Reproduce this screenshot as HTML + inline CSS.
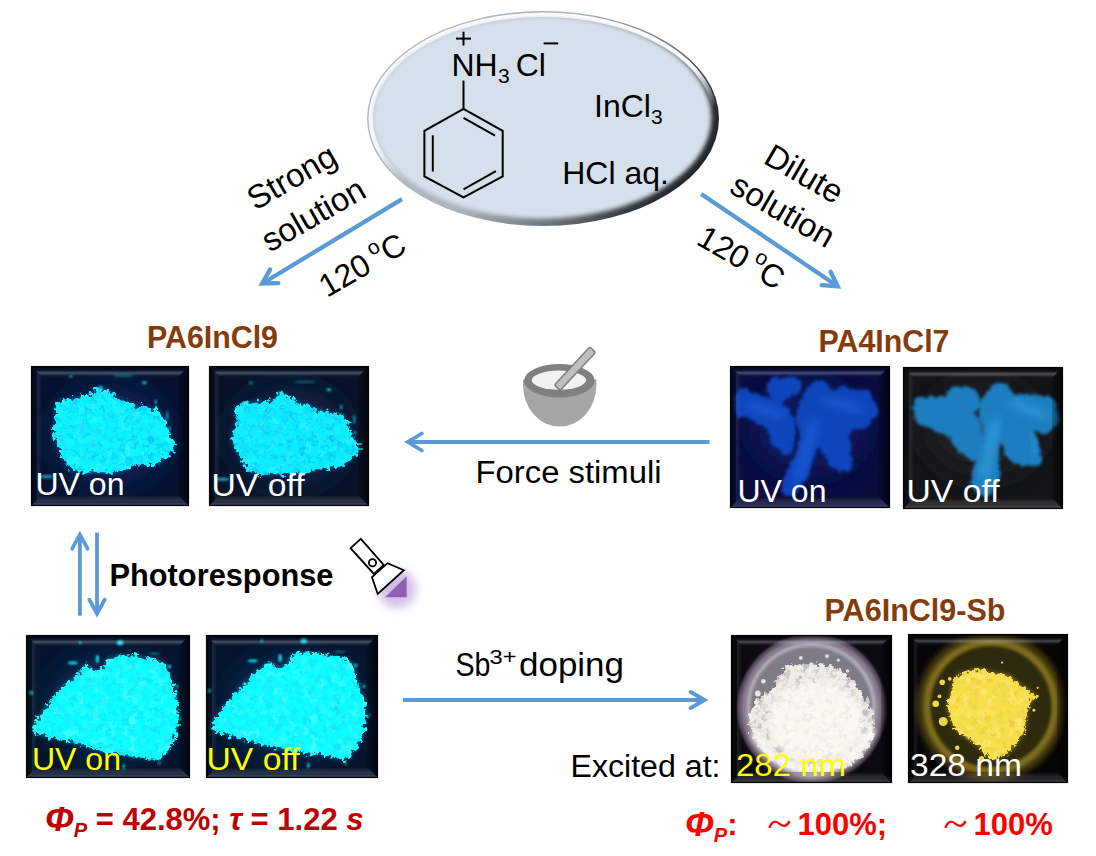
<!DOCTYPE html>
<html><head><meta charset="utf-8"><style>
html,body{margin:0;padding:0;background:#fff;width:1096px;height:856px;overflow:hidden}
svg{display:block}
</style></head><body>
<svg width="1096" height="856" viewBox="0 0 1096 856">
<rect width="1096" height="856" fill="#fff"/>

<defs>
 <linearGradient id="bvT" x1="0" y1="0" x2="0" y2="1">
  <stop offset="0" stop-color="#000" stop-opacity="0.6"/>
  <stop offset="0.35" stop-color="#000" stop-opacity="0.2"/>
  <stop offset="0.62" stop-color="#c8d0e0" stop-opacity="0.32"/>
  <stop offset="0.85" stop-color="#fff" stop-opacity="0.06"/>
  <stop offset="1" stop-color="#fff" stop-opacity="0"/>
 </linearGradient>
 <linearGradient id="bvL" x1="0" y1="0" x2="1" y2="0">
  <stop offset="0" stop-color="#000" stop-opacity="0.6"/>
  <stop offset="0.5" stop-color="#000" stop-opacity="0.2"/>
  <stop offset="0.65" stop-color="#fff" stop-opacity="0.07"/>
  <stop offset="1" stop-color="#fff" stop-opacity="0"/>
 </linearGradient>
 <linearGradient id="bvR" x1="1" y1="0" x2="0" y2="0">
  <stop offset="0" stop-color="#000" stop-opacity="0.7"/>
  <stop offset="1" stop-color="#000" stop-opacity="0.2"/>
 </linearGradient>
 <linearGradient id="bvB" x1="0" y1="1" x2="0" y2="0">
  <stop offset="0" stop-color="#000" stop-opacity="0.6"/>
  <stop offset="0.3" stop-color="#fff" stop-opacity="0.12"/>
  <stop offset="1" stop-color="#000" stop-opacity="0.3"/>
 </linearGradient>
 <radialGradient id="ellFill" cx="0.5" cy="0.5" r="0.5">
  <stop offset="0.86" stop-color="#d6e0ea"/>
  <stop offset="1" stop-color="#c3ccd6"/>
 </radialGradient>
 <linearGradient id="ellEdge" x1="0" y1="0.3" x2="1" y2="0.7">
  <stop offset="0" stop-color="#b4bcc6"/>
  <stop offset="0.45" stop-color="#aab2bc"/>
  <stop offset="0.67" stop-color="#72787f"/>
  <stop offset="0.9" stop-color="#2a2e33"/>
  <stop offset="1" stop-color="#1e2226"/>
 </linearGradient>
 <linearGradient id="ellHi" x1="0.3" y1="0" x2="0.7" y2="1">
  <stop offset="0" stop-color="#ffffff"/>
  <stop offset="0.45" stop-color="#ffffff"/>
  <stop offset="0.62" stop-color="#ffffff" stop-opacity="0"/>
  <stop offset="1" stop-color="#ffffff" stop-opacity="0"/>
 </linearGradient>
 <radialGradient id="halo7" cx="0.5" cy="0.5" r="0.5">
  <stop offset="0" stop-color="#a098a8"/>
  <stop offset="0.82" stop-color="#a098a8"/>
  <stop offset="0.9" stop-color="#7e7284"/>
  <stop offset="0.96" stop-color="#463c4c"/>
  <stop offset="1" stop-color="#0c0b12" stop-opacity="0"/>
 </radialGradient>
 <filter id="bl05" x="-5%" y="-5%" width="110%" height="110%"><feGaussianBlur stdDeviation="2.2"/></filter>
 <filter id="bl04" x="-5%" y="-5%" width="110%" height="110%"><feGaussianBlur stdDeviation="0.7"/></filter>
 <filter id="bl1" x="-20%" y="-20%" width="140%" height="140%"><feGaussianBlur stdDeviation="6"/></filter>
 <filter id="bl2" x="-20%" y="-20%" width="140%" height="140%"><feGaussianBlur stdDeviation="14"/></filter>
 <filter id="bl3" x="-50%" y="-50%" width="200%" height="200%"><feGaussianBlur stdDeviation="30"/></filter>
 <filter id="bl4" x="-50%" y="-50%" width="200%" height="200%"><feGaussianBlur stdDeviation="90"/></filter>
 <filter id="glowP" x="-50%" y="-50%" width="200%" height="200%"><feGaussianBlur stdDeviation="5"/></filter>
 <filter id="r1" x="-10%" y="-10%" width="120%" height="120%"><feTurbulence type="fractalNoise" baseFrequency="0.035" numOctaves="3" seed="2" result="t"/><feDisplacementMap in="SourceGraphic" in2="t" scale="70" xChannelSelector="R" yChannelSelector="G"/></filter>
 <filter id="r2" x="-10%" y="-10%" width="120%" height="120%"><feTurbulence type="fractalNoise" baseFrequency="0.035" numOctaves="3" seed="7" result="t"/><feDisplacementMap in="SourceGraphic" in2="t" scale="70" xChannelSelector="R" yChannelSelector="G"/></filter>
 <filter id="r3" x="-10%" y="-10%" width="120%" height="120%"><feTurbulence type="fractalNoise" baseFrequency="0.04" numOctaves="3" seed="4" result="t"/><feDisplacementMap in="SourceGraphic" in2="t" scale="60" xChannelSelector="R" yChannelSelector="G"/></filter>
 <filter id="r4" x="-10%" y="-10%" width="120%" height="120%"><feTurbulence type="fractalNoise" baseFrequency="0.04" numOctaves="3" seed="9" result="t"/><feDisplacementMap in="SourceGraphic" in2="t" scale="60" xChannelSelector="R" yChannelSelector="G"/></filter>
 <filter id="r5" x="-10%" y="-10%" width="120%" height="120%"><feTurbulence type="fractalNoise" baseFrequency="0.04" numOctaves="3" seed="11" result="t"/><feDisplacementMap in="SourceGraphic" in2="t" scale="60" xChannelSelector="R" yChannelSelector="G"/></filter>
 <filter id="r6" x="-10%" y="-10%" width="120%" height="120%"><feTurbulence type="fractalNoise" baseFrequency="0.045" numOctaves="3" seed="13" result="t"/><feDisplacementMap in="SourceGraphic" in2="t" scale="55" xChannelSelector="R" yChannelSelector="G"/></filter>
 <filter id="sb1" x="-10%" y="-10%" width="120%" height="120%"><feTurbulence type="fractalNoise" baseFrequency="0.03" numOctaves="2" seed="5" result="t"/><feDisplacementMap in="SourceGraphic" in2="t" scale="40" xChannelSelector="R" yChannelSelector="G" result="d"/><feGaussianBlur in="d" stdDeviation="11"/></filter>
 <filter id="texD" x="0" y="0" width="100%" height="100%">
  <feTurbulence type="fractalNoise" baseFrequency="0.03" numOctaves="1" seed="21" result="n"/>
  <feColorMatrix in="n" type="matrix" values="0 0 0 0 0  0 0 0 0 0  0 0 0 0 0  2.0 0 0 0 -0.95" result="m"/>
  <feComposite in="SourceGraphic" in2="m" operator="in"/>
 </filter>
 <filter id="texH" x="0" y="0" width="100%" height="100%">
  <feTurbulence type="fractalNoise" baseFrequency="0.025" numOctaves="1" seed="33" result="n"/>
  <feColorMatrix in="n" type="matrix" values="0 0 0 0 0  0 0 0 0 0  0 0 0 0 0  2.0 0 0 0 -1.0" result="m"/>
  <feComposite in="SourceGraphic" in2="m" operator="in"/>
 </filter>
 <filter id="tex" x="0" y="0" width="100%" height="100%">
  <feTurbulence type="fractalNoise" baseFrequency="0.08" numOctaves="2" seed="3" result="n"/>
  <feColorMatrix in="n" type="matrix" values="0 0 0 0 1  0 0 0 0 1  0 0 0 0 1  0 0 0 -1.6 1.1" result="m"/>
  <feComposite in="SourceGraphic" in2="m" operator="in"/>
 </filter>
 <clipPath id="c1"><rect x="31" y="366" width="158" height="140"/></clipPath>
 <clipPath id="c2"><rect x="209" y="366" width="160" height="140"/></clipPath>
 <clipPath id="c3"><rect x="730" y="366" width="160" height="142"/></clipPath>
 <clipPath id="c4"><rect x="903" y="367" width="160" height="142"/></clipPath>
 <clipPath id="c5"><rect x="26" y="635" width="164" height="143"/></clipPath>
 <clipPath id="c6"><rect x="206" y="635" width="172" height="143"/></clipPath>
 <clipPath id="c7"><rect x="731" y="635" width="161" height="148"/></clipPath>
 <clipPath id="c8"><rect x="908" y="634" width="160" height="149"/></clipPath>
</defs>
<g>
 <ellipse cx="543" cy="118.5" rx="176" ry="107.5" fill="url(#ellEdge)"/>
 <ellipse cx="543" cy="118.5" rx="172.2" ry="103.8" fill="none" stroke="url(#ellHi)" stroke-width="4.4" filter="url(#bl04)"/>
 <ellipse cx="541.8" cy="117.6" rx="169.6" ry="100.8" fill="#d6e0ea" filter="url(#bl05)"/>
</g><g font-family='"Liberation Sans", sans-serif' fill="#000">
 <text x="451.4" y="75.5" font-size="32">NH</text>
 <text x="498" y="82.8" font-size="21">3</text>
 <text x="515.7" y="75.5" font-size="32">Cl</text>
 <text x="594" y="117.2" font-size="32">InCl</text>
 <text x="651" y="123.5" font-size="21">3</text>
 <text x="562.2" y="183.8" font-size="32">HCl aq.</text>
</g>
<g stroke="#000" stroke-width="2" fill="none">
 <line x1="456" y1="38.6" x2="471" y2="38.6"/><line x1="463.5" y1="31.7" x2="463.5" y2="45.5"/>
 <line x1="543.6" y1="43.4" x2="558.2" y2="43.4"/>
 <line x1="463.5" y1="80.6" x2="463.5" y2="108.8"/>
 <polygon points="463.5,108.8 502.7,130.8 502.7,176.4 463.5,197.4 424.4,176.4 424.4,130.8" stroke-linejoin="miter"/>
 <line x1="463.5" y1="117.9" x2="495.1" y2="135.7"/>
 <line x1="432.8" y1="135.3" x2="432.8" y2="171.5"/>
 <line x1="463.5" y1="189.3" x2="495.9" y2="171.1"/>
</g><g font-family='"Liberation Sans", sans-serif' fill="#000" font-size="33" text-anchor="middle">
 <text transform="translate(297.3,186.8) rotate(-30)" x="0" y="0">Strong</text>
 <text transform="translate(319,224.4) rotate(-30)" x="0" y="0">solution</text>
 <text transform="translate(798.5,183.5) rotate(30)" x="0" y="0">Dilute</text>
 <text transform="translate(777.3,220.3) rotate(30)" x="0" y="0">solution</text>
</g>
<g font-family='"Liberation Sans", sans-serif' fill="#000" font-size="32">
 <text transform="translate(327,298) rotate(-30)" x="0" y="0">120<tspan dx="6" font-size="21" dy="-14">o</tspan><tspan dy="14">C</tspan></text>
 <text transform="translate(695,243.5) rotate(30)" x="0" y="0">120<tspan dx="6" font-size="21" dy="-14">o</tspan><tspan dy="14">C</tspan></text>
</g><g stroke="#5b9bd5" stroke-width="4.3" fill="none" stroke-linecap="round" stroke-linejoin="miter">
 <line x1="402" y1="199.2" x2="263.1" y2="283.0" stroke-linecap="butt"/>
 <polyline points="270.1,269.4 262.2,283.5 278.3,283.1"/>
</g><g stroke="#5b9bd5" stroke-width="4.3" fill="none" stroke-linecap="round" stroke-linejoin="miter">
 <line x1="701.2" y1="194" x2="836.9" y2="285.7" stroke-linecap="butt"/>
 <polyline points="821.7,285.1 837.7,286.3 830.6,271.8"/>
</g><g stroke="#5b9bd5" stroke-width="3.8" fill="none" stroke-linecap="round" stroke-linejoin="miter">
 <line x1="709.5" y1="442" x2="408.8" y2="442.0" stroke-linecap="butt"/>
 <polyline points="421.8,433.5 407.8,442.0 421.8,450.5"/>
</g><g stroke="#5b9bd5" stroke-width="3.8" fill="none" stroke-linecap="round" stroke-linejoin="miter">
 <line x1="403" y1="700" x2="703.6" y2="700.0" stroke-linecap="butt"/>
 <polyline points="690.6,708.0 704.6,700.0 690.6,692.0"/>
</g><g stroke="#5b9bd5" stroke-width="3.8" fill="none" stroke-linecap="round" stroke-linejoin="miter">
 <line x1="79.9" y1="615.7" x2="79.9" y2="535.7" stroke-linecap="butt"/>
 <polyline points="87.6,548.7 79.9,534.7 72.2,548.7"/>
</g><g stroke="#5b9bd5" stroke-width="3.8" fill="none" stroke-linecap="round" stroke-linejoin="miter">
 <line x1="97" y1="532.7" x2="97.0" y2="612.7" stroke-linecap="butt"/>
 <polyline points="89.3,599.7 97.0,613.7 104.7,599.7"/>
</g><g font-family='"Liberation Sans", sans-serif' font-weight="bold">
 <text x="147" y="347.9" font-size="31" fill="#843c0c" textLength="131" lengthAdjust="spacingAndGlyphs">PA6InCl9</text>
 <text x="818.5" y="351.9" font-size="31" fill="#843c0c" textLength="131" lengthAdjust="spacingAndGlyphs">PA4InCl7</text>
 <text x="824.5" y="620.5" font-size="31" fill="#843c0c" textLength="181" lengthAdjust="spacingAndGlyphs">PA6InCl9-Sb</text>
 <text x="109.5" y="585.8" font-size="31" fill="#000" textLength="224" lengthAdjust="spacingAndGlyphs">Photoresponse</text>
</g>
<g font-family='"Liberation Sans", sans-serif' font-size="31" fill="#000">
 <text x="475.5" y="482.8" textLength="186" lengthAdjust="spacingAndGlyphs">Force stimuli</text>
 <text x="455.5" y="676" font-size="32.5" textLength="35" lengthAdjust="spacingAndGlyphs">Sb</text><text x="489.5" y="664" font-size="20.5" textLength="27" lengthAdjust="spacingAndGlyphs">3+</text><text x="519" y="676" font-size="32.5" textLength="105" lengthAdjust="spacingAndGlyphs">doping</text>
 <text x="570.5" y="776.5" textLength="150" lengthAdjust="spacingAndGlyphs">Excited at:</text>
</g><g clip-path="url(#c1)"><g transform="translate(20,360) scale(0.17526777020447906)">
<rect x="60" y="35" width="905" height="800" fill="#061330"/>
<ellipse cx="512.5" cy="435.0" rx="325.8" ry="272.0" fill="#0c2458" filter="url(#bl4)"/>
<ellipse cx="290" cy="95" rx="10" ry="8" fill="#0cf4ff" opacity="0.6" filter="url(#bl1)"/><ellipse cx="460" cy="165" rx="14" ry="16" fill="#0cf4ff" opacity="0.8" filter="url(#bl1)"/><ellipse cx="710" cy="130" rx="14" ry="10" fill="#0cf4ff" opacity="0.7" filter="url(#bl1)"/><ellipse cx="775" cy="240" rx="8" ry="14" fill="#0cf4ff" opacity="0.6" filter="url(#bl1)"/><ellipse cx="840" cy="320" rx="8" ry="28" fill="#0cf4ff" opacity="0.5" filter="url(#bl1)"/><ellipse cx="855" cy="390" rx="8" ry="12" fill="#0cf4ff" opacity="0.6" filter="url(#bl1)"/><ellipse cx="150" cy="665" rx="40" ry="10" fill="#0cf4ff" opacity="0.6" filter="url(#bl1)"/><ellipse cx="590" cy="90" rx="60" ry="8" fill="#0cf4ff" opacity="0.3" filter="url(#bl1)"/>
<path d="M210,250 C227,231 270,223 300,215 C330,207 365,209 390,200 C415,191 428,162 450,160 C472,158 495,172 520,185 C545,198 570,226 600,240 C630,254 668,262 700,270 C732,278 768,277 790,290 C812,303 818,325 830,350 C842,375 851,417 860,440 C869,463 890,470 885,490 C880,510 851,542 830,560 C809,578 790,593 760,600 C730,607 683,593 650,600 C617,607 593,633 560,640 C527,647 488,640 450,640 C412,640 360,647 330,640 C300,633 287,620 270,600 C253,580 243,548 230,520 C217,492 195,462 190,430 C185,398 197,360 200,330 C203,300 193,269 210,250 Z" fill="#1090e0" filter="url(#bl2)" opacity="0.5"/>
<g filter="url(#r1)">
<path d="M210,250 C227,231 270,223 300,215 C330,207 365,209 390,200 C415,191 428,162 450,160 C472,158 495,172 520,185 C545,198 570,226 600,240 C630,254 668,262 700,270 C732,278 768,277 790,290 C812,303 818,325 830,350 C842,375 851,417 860,440 C869,463 890,470 885,490 C880,510 851,542 830,560 C809,578 790,593 760,600 C730,607 683,593 650,600 C617,607 593,633 560,640 C527,647 488,640 450,640 C412,640 360,647 330,640 C300,633 287,620 270,600 C253,580 243,548 230,520 C217,492 195,462 190,430 C185,398 197,360 200,330 C203,300 193,269 210,250 Z" fill="#0cf4ff"/>
<path d="M210,250 C227,231 270,223 300,215 C330,207 365,209 390,200 C415,191 428,162 450,160 C472,158 495,172 520,185 C545,198 570,226 600,240 C630,254 668,262 700,270 C732,278 768,277 790,290 C812,303 818,325 830,350 C842,375 851,417 860,440 C869,463 890,470 885,490 C880,510 851,542 830,560 C809,578 790,593 760,600 C730,607 683,593 650,600 C617,607 593,633 560,640 C527,647 488,640 450,640 C412,640 360,647 330,640 C300,633 287,620 270,600 C253,580 243,548 230,520 C217,492 195,462 190,430 C185,398 197,360 200,330 C203,300 193,269 210,250 Z" fill="#0ea8f0" filter="url(#texD)"/>
<path d="M210,250 C227,231 270,223 300,215 C330,207 365,209 390,200 C415,191 428,162 450,160 C472,158 495,172 520,185 C545,198 570,226 600,240 C630,254 668,262 700,270 C732,278 768,277 790,290 C812,303 818,325 830,350 C842,375 851,417 860,440 C869,463 890,470 885,490 C880,510 851,542 830,560 C809,578 790,593 760,600 C730,607 683,593 650,600 C617,607 593,633 560,640 C527,647 488,640 450,640 C412,640 360,647 330,640 C300,633 287,620 270,600 C253,580 243,548 230,520 C217,492 195,462 190,430 C185,398 197,360 200,330 C203,300 193,269 210,250 Z" fill="#6afcff" filter="url(#texH)" opacity="0.7"/>
</g>
</g></g><g clip-path="url(#c2)"><g transform="translate(200,360) scale(0.17526777020447906)">
<rect x="55" y="35" width="910" height="800" fill="#0a1428"/>
<ellipse cx="510.0" cy="435.0" rx="327.59999999999997" ry="272.0" fill="#0f2348" filter="url(#bl4)"/>
<ellipse cx="290" cy="130" rx="10" ry="8" fill="#0ceeff" opacity="0.6" filter="url(#bl1)"/><ellipse cx="460" cy="195" rx="14" ry="16" fill="#0ceeff" opacity="0.8" filter="url(#bl1)"/><ellipse cx="735" cy="170" rx="14" ry="10" fill="#0ceeff" opacity="0.7" filter="url(#bl1)"/><ellipse cx="805" cy="270" rx="8" ry="14" fill="#0ceeff" opacity="0.6" filter="url(#bl1)"/><ellipse cx="880" cy="340" rx="8" ry="28" fill="#0ceeff" opacity="0.5" filter="url(#bl1)"/><ellipse cx="885" cy="415" rx="8" ry="12" fill="#0ceeff" opacity="0.6" filter="url(#bl1)"/><ellipse cx="130" cy="680" rx="40" ry="10" fill="#0ceeff" opacity="0.6" filter="url(#bl1)"/><ellipse cx="600" cy="125" rx="60" ry="8" fill="#0ceeff" opacity="0.3" filter="url(#bl1)"/>
<path d="M200,270 C215,252 267,246 300,240 C333,234 372,243 400,235 C428,227 447,191 470,190 C493,189 515,218 540,230 C565,242 590,248 620,260 C650,272 688,292 720,300 C752,308 788,297 810,310 C832,323 838,357 850,380 C862,403 868,430 880,450 C892,470 922,482 920,500 C918,518 890,542 870,560 C850,578 830,600 800,610 C770,620 723,615 690,620 C657,625 635,635 600,640 C565,645 525,648 480,650 C435,652 365,655 330,650 C295,645 288,638 270,620 C252,602 235,568 220,540 C205,512 182,482 180,450 C178,418 207,380 210,350 C213,320 185,288 200,270 Z" fill="#1090e0" filter="url(#bl2)" opacity="0.5"/>
<g filter="url(#r2)">
<path d="M200,270 C215,252 267,246 300,240 C333,234 372,243 400,235 C428,227 447,191 470,190 C493,189 515,218 540,230 C565,242 590,248 620,260 C650,272 688,292 720,300 C752,308 788,297 810,310 C832,323 838,357 850,380 C862,403 868,430 880,450 C892,470 922,482 920,500 C918,518 890,542 870,560 C850,578 830,600 800,610 C770,620 723,615 690,620 C657,625 635,635 600,640 C565,645 525,648 480,650 C435,652 365,655 330,650 C295,645 288,638 270,620 C252,602 235,568 220,540 C205,512 182,482 180,450 C178,418 207,380 210,350 C213,320 185,288 200,270 Z" fill="#0ceeff"/>
<path d="M200,270 C215,252 267,246 300,240 C333,234 372,243 400,235 C428,227 447,191 470,190 C493,189 515,218 540,230 C565,242 590,248 620,260 C650,272 688,292 720,300 C752,308 788,297 810,310 C832,323 838,357 850,380 C862,403 868,430 880,450 C892,470 922,482 920,500 C918,518 890,542 870,560 C850,578 830,600 800,610 C770,620 723,615 690,620 C657,625 635,635 600,640 C565,645 525,648 480,650 C435,652 365,655 330,650 C295,645 288,638 270,620 C252,602 235,568 220,540 C205,512 182,482 180,450 C178,418 207,380 210,350 C213,320 185,288 200,270 Z" fill="#0ea4ec" filter="url(#texD)"/>
<path d="M200,270 C215,252 267,246 300,240 C333,234 372,243 400,235 C428,227 447,191 470,190 C493,189 515,218 540,230 C565,242 590,248 620,260 C650,272 688,292 720,300 C752,308 788,297 810,310 C832,323 838,357 850,380 C862,403 868,430 880,450 C892,470 922,482 920,500 C918,518 890,542 870,560 C850,578 830,600 800,610 C770,620 723,615 690,620 C657,625 635,635 600,640 C565,645 525,648 480,650 C435,652 365,655 330,650 C295,645 288,638 270,620 C252,602 235,568 220,540 C205,512 182,482 180,450 C178,418 207,380 210,350 C213,320 185,288 200,270 Z" fill="#6afaff" filter="url(#texH)" opacity="0.7"/>
</g>
</g></g><g clip-path="url(#c5)"><g transform="translate(20,628) scale(0.18218623481781376)">
<rect x="35" y="40" width="900" height="785" fill="#06152e"/>
<ellipse cx="485.0" cy="432.5" rx="324.0" ry="266.90000000000003" fill="#0c2a58" filter="url(#bl4)"/>
<ellipse cx="330" cy="80" rx="8" ry="10" fill="#10fcff" opacity="0.7" filter="url(#bl1)"/><ellipse cx="550" cy="80" rx="18" ry="14" fill="#10fcff" opacity="0.9" filter="url(#bl1)"/><ellipse cx="425" cy="170" rx="10" ry="22" fill="#10fcff" opacity="0.8" filter="url(#bl1)"/><ellipse cx="290" cy="192" rx="28" ry="9" fill="#10fcff" opacity="0.8" filter="url(#bl1)"/><ellipse cx="60" cy="355" rx="12" ry="12" fill="#10fcff" opacity="0.8" filter="url(#bl1)"/><ellipse cx="820" cy="212" rx="10" ry="10" fill="#10fcff" opacity="0.8" filter="url(#bl1)"/><ellipse cx="862" cy="320" rx="8" ry="10" fill="#10fcff" opacity="0.7" filter="url(#bl1)"/><ellipse cx="570" cy="762" rx="8" ry="16" fill="#10fcff" opacity="0.7" filter="url(#bl1)"/><ellipse cx="765" cy="742" rx="8" ry="8" fill="#10fcff" opacity="0.6" filter="url(#bl1)"/><ellipse cx="880" cy="500" rx="10" ry="10" fill="#10fcff" opacity="0.6" filter="url(#bl1)"/><ellipse cx="740" cy="140" rx="30" ry="6" fill="#10fcff" opacity="0.4" filter="url(#bl1)"/>
<path d="M480,170 C495,162 527,152 560,150 C593,148 642,153 680,160 C718,167 767,173 790,190 C813,207 810,233 820,260 C830,287 842,318 850,350 C858,382 868,415 870,450 C872,485 867,527 860,560 C853,593 847,623 830,650 C813,677 790,710 760,720 C730,730 683,713 650,710 C617,707 602,708 560,700 C518,692 450,673 400,660 C350,647 300,630 260,620 C220,610 192,608 160,600 C128,592 80,587 70,570 C60,553 87,525 100,500 C113,475 128,448 150,420 C172,392 200,360 230,330 C260,300 308,262 330,240 C352,218 345,200 360,200 C375,200 402,240 420,240 C438,240 460,212 470,200 C480,188 465,178 480,170 Z" fill="#10b0e0" filter="url(#bl2)" opacity="0.5"/>
<g filter="url(#r3)">
<path d="M480,170 C495,162 527,152 560,150 C593,148 642,153 680,160 C718,167 767,173 790,190 C813,207 810,233 820,260 C830,287 842,318 850,350 C858,382 868,415 870,450 C872,485 867,527 860,560 C853,593 847,623 830,650 C813,677 790,710 760,720 C730,730 683,713 650,710 C617,707 602,708 560,700 C518,692 450,673 400,660 C350,647 300,630 260,620 C220,610 192,608 160,600 C128,592 80,587 70,570 C60,553 87,525 100,500 C113,475 128,448 150,420 C172,392 200,360 230,330 C260,300 308,262 330,240 C352,218 345,200 360,200 C375,200 402,240 420,240 C438,240 460,212 470,200 C480,188 465,178 480,170 Z" fill="#10fcff"/>
<path d="M480,170 C495,162 527,152 560,150 C593,148 642,153 680,160 C718,167 767,173 790,190 C813,207 810,233 820,260 C830,287 842,318 850,350 C858,382 868,415 870,450 C872,485 867,527 860,560 C853,593 847,623 830,650 C813,677 790,710 760,720 C730,730 683,713 650,710 C617,707 602,708 560,700 C518,692 450,673 400,660 C350,647 300,630 260,620 C220,610 192,608 160,600 C128,592 80,587 70,570 C60,553 87,525 100,500 C113,475 128,448 150,420 C172,392 200,360 230,330 C260,300 308,262 330,240 C352,218 345,200 360,200 C375,200 402,240 420,240 C438,240 460,212 470,200 C480,188 465,178 480,170 Z" fill="#10d0f0" filter="url(#texD)"/>
<path d="M480,170 C495,162 527,152 560,150 C593,148 642,153 680,160 C718,167 767,173 790,190 C813,207 810,233 820,260 C830,287 842,318 850,350 C858,382 868,415 870,450 C872,485 867,527 860,560 C853,593 847,623 830,650 C813,677 790,710 760,720 C730,730 683,713 650,710 C617,707 602,708 560,700 C518,692 450,673 400,660 C350,647 300,630 260,620 C220,610 192,608 160,600 C128,592 80,587 70,570 C60,553 87,525 100,500 C113,475 128,448 150,420 C172,392 200,360 230,330 C260,300 308,262 330,240 C352,218 345,200 360,200 C375,200 402,240 420,240 C438,240 460,212 470,200 C480,188 465,178 480,170 Z" fill="#90ffff" filter="url(#texH)" opacity="0.7"/>
</g>
</g></g><g clip-path="url(#c6)"><g transform="translate(200,628) scale(0.18218623481781376)">
<rect x="35" y="40" width="945" height="785" fill="#06152e"/>
<ellipse cx="507.5" cy="432.5" rx="340.2" ry="266.90000000000003" fill="#0c2a58" filter="url(#bl4)"/>
<ellipse cx="340" cy="70" rx="8" ry="10" fill="#10fcff" opacity="0.7" filter="url(#bl1)"/><ellipse cx="570" cy="70" rx="18" ry="14" fill="#10fcff" opacity="0.9" filter="url(#bl1)"/><ellipse cx="440" cy="165" rx="10" ry="22" fill="#10fcff" opacity="0.8" filter="url(#bl1)"/><ellipse cx="290" cy="180" rx="28" ry="9" fill="#10fcff" opacity="0.8" filter="url(#bl1)"/><ellipse cx="50" cy="345" rx="12" ry="12" fill="#10fcff" opacity="0.8" filter="url(#bl1)"/><ellipse cx="855" cy="205" rx="10" ry="10" fill="#10fcff" opacity="0.8" filter="url(#bl1)"/><ellipse cx="900" cy="320" rx="8" ry="10" fill="#10fcff" opacity="0.7" filter="url(#bl1)"/><ellipse cx="595" cy="755" rx="8" ry="16" fill="#10fcff" opacity="0.7" filter="url(#bl1)"/><ellipse cx="800" cy="745" rx="8" ry="8" fill="#10fcff" opacity="0.6" filter="url(#bl1)"/><ellipse cx="930" cy="480" rx="10" ry="10" fill="#10fcff" opacity="0.6" filter="url(#bl1)"/><ellipse cx="770" cy="130" rx="30" ry="6" fill="#10fcff" opacity="0.4" filter="url(#bl1)"/>
<path d="M500,150 C515,142 547,135 580,135 C613,135 660,142 700,150 C740,158 795,163 820,180 C845,197 840,223 850,250 C860,277 870,310 880,340 C890,370 907,393 910,430 C913,467 908,523 900,560 C892,597 877,623 860,650 C843,677 828,712 800,720 C772,728 727,705 690,700 C653,695 625,697 580,690 C535,683 472,672 420,660 C368,648 313,632 270,620 C227,608 195,601 160,590 C125,579 70,573 60,555 C50,537 83,506 100,480 C117,454 137,428 160,400 C183,372 210,340 240,310 C270,280 317,240 340,220 C363,200 363,190 380,190 C397,190 422,222 440,220 C458,218 480,192 490,180 C500,168 485,158 500,150 Z" fill="#10b0e0" filter="url(#bl2)" opacity="0.5"/>
<g filter="url(#r4)">
<path d="M500,150 C515,142 547,135 580,135 C613,135 660,142 700,150 C740,158 795,163 820,180 C845,197 840,223 850,250 C860,277 870,310 880,340 C890,370 907,393 910,430 C913,467 908,523 900,560 C892,597 877,623 860,650 C843,677 828,712 800,720 C772,728 727,705 690,700 C653,695 625,697 580,690 C535,683 472,672 420,660 C368,648 313,632 270,620 C227,608 195,601 160,590 C125,579 70,573 60,555 C50,537 83,506 100,480 C117,454 137,428 160,400 C183,372 210,340 240,310 C270,280 317,240 340,220 C363,200 363,190 380,190 C397,190 422,222 440,220 C458,218 480,192 490,180 C500,168 485,158 500,150 Z" fill="#10fcff"/>
<path d="M500,150 C515,142 547,135 580,135 C613,135 660,142 700,150 C740,158 795,163 820,180 C845,197 840,223 850,250 C860,277 870,310 880,340 C890,370 907,393 910,430 C913,467 908,523 900,560 C892,597 877,623 860,650 C843,677 828,712 800,720 C772,728 727,705 690,700 C653,695 625,697 580,690 C535,683 472,672 420,660 C368,648 313,632 270,620 C227,608 195,601 160,590 C125,579 70,573 60,555 C50,537 83,506 100,480 C117,454 137,428 160,400 C183,372 210,340 240,310 C270,280 317,240 340,220 C363,200 363,190 380,190 C397,190 422,222 440,220 C458,218 480,192 490,180 C500,168 485,158 500,150 Z" fill="#10d0f0" filter="url(#texD)"/>
<path d="M500,150 C515,142 547,135 580,135 C613,135 660,142 700,150 C740,158 795,163 820,180 C845,197 840,223 850,250 C860,277 870,310 880,340 C890,370 907,393 910,430 C913,467 908,523 900,560 C892,597 877,623 860,650 C843,677 828,712 800,720 C772,728 727,705 690,700 C653,695 625,697 580,690 C535,683 472,672 420,660 C368,648 313,632 270,620 C227,608 195,601 160,590 C125,579 70,573 60,555 C50,537 83,506 100,480 C117,454 137,428 160,400 C183,372 210,340 240,310 C270,280 317,240 340,220 C363,200 363,190 380,190 C397,190 422,222 440,220 C458,218 480,192 490,180 C500,168 485,158 500,150 Z" fill="#90ffff" filter="url(#texH)" opacity="0.7"/>
</g>
</g></g><g clip-path="url(#c3)"><g transform="translate(735,370) scale(0.15182186234817813)"><rect x="-60" y="-60" width="1100" height="1000" fill="#0a0d3e"/><ellipse cx="490.0" cy="390.0" rx="396.0" ry="320.0" fill="#0e1458" filter="url(#bl4)"/><g filter="url(#sb1)"><path d="M12,144 C22,124 44,121 65,123 C86,125 112,144 140,155 C168,166 208,176 235,187 C262,198 280,207 299,219 C318,231 338,245 352,261 C366,277 376,294 383,314 C390,334 392,355 394,378 C396,401 396,427 394,452 C392,477 390,507 383,526 C376,545 368,568 352,568 C336,568 308,540 288,526 C268,512 246,502 235,484 C224,466 233,440 224,420 C215,400 203,383 182,367 C161,351 124,336 97,325 C70,314 39,317 23,303 C7,289 4,266 2,240 C0,214 2,164 12,144 Z" fill="#0c44bc"/><path d="M203,123 C205,100 236,60 256,49 C276,38 297,62 320,60 C343,58 375,33 394,38 C413,43 432,72 436,91 C440,110 431,139 415,155 C399,171 359,176 341,187 C323,198 325,219 309,219 C293,219 264,203 246,187 C228,171 201,146 203,123 Z" fill="#0c44bc"/><path d="M436,187 C454,157 493,86 521,70 C549,54 585,80 606,91 C627,102 630,132 648,134 C666,136 689,102 712,102 C735,102 760,129 786,134 C812,139 850,124 871,134 C892,144 901,172 913,197 C925,222 948,259 945,282 C942,305 908,317 892,335 C876,353 869,379 850,388 C831,397 792,379 776,388 C760,397 756,416 754,441 C752,466 763,502 765,537 C767,572 777,632 765,653 C753,674 714,668 691,664 C668,660 646,652 627,632 C608,612 588,568 574,547 C560,526 551,502 542,505 C533,508 530,540 521,568 C512,596 507,637 489,674 C471,711 442,764 415,791 C388,818 348,840 330,833 C312,826 305,781 309,749 C313,717 336,680 352,643 C368,606 393,563 405,526 C417,489 426,452 426,420 C426,388 407,363 405,335 C403,307 410,275 415,250 C420,225 418,217 436,187 Z" fill="#0c44bc"/></g><line x1="520" y1="350" x2="420" y2="700" stroke="#2a74f0" stroke-width="60" stroke-linecap="round" filter="url(#bl3)" opacity="0.5"/><line x1="600" y1="200" x2="820" y2="260" stroke="#2a74f0" stroke-width="50" stroke-linecap="round" filter="url(#bl3)" opacity="0.5"/><line x1="100" y1="230" x2="300" y2="300" stroke="#2a74f0" stroke-width="50" stroke-linecap="round" filter="url(#bl3)" opacity="0.5"/></g></g><g clip-path="url(#c4)"><g transform="translate(908,370) scale(0.15182186234817813)"><rect x="-60" y="-60" width="1100" height="1000" fill="#141518"/><ellipse cx="490.0" cy="390.0" rx="396.0" ry="320.0" fill="#1a1c20" filter="url(#bl4)"/><g filter="url(#sb1)"><path d="M44,197 C55,174 76,180 108,176 C140,172 205,186 235,176 C265,166 265,124 288,113 C311,102 346,110 373,113 C400,116 429,115 447,134 C465,153 481,206 479,229 C477,252 438,256 436,272 C434,288 459,304 468,325 C477,346 484,374 489,399 C494,424 502,445 500,473 C498,501 491,547 479,568 C467,589 444,600 426,600 C408,600 392,582 373,568 C354,554 325,534 309,515 C293,496 295,470 277,452 C259,434 233,423 203,409 C173,395 124,383 97,367 C70,351 53,342 44,314 C35,286 33,220 44,197 Z" fill="#1e7ebe"/><path d="M489,197 C505,170 546,107 574,91 C602,75 638,91 659,102 C680,113 685,146 701,155 C717,164 728,153 754,155 C780,157 826,161 860,166 C894,171 935,168 956,187 C977,206 981,257 988,282 C995,307 1005,316 998,335 C991,354 964,385 945,399 C926,413 901,420 882,420 C863,420 833,388 829,399 C825,410 851,449 860,484 C869,519 891,586 882,611 C873,636 835,630 807,632 C779,634 738,632 712,621 C686,610 664,591 648,568 C632,545 626,484 617,484 C608,484 597,536 595,568 C593,600 610,639 606,674 C602,709 592,754 574,780 C556,806 526,836 500,833 C474,830 427,789 415,759 C403,729 417,685 426,653 C435,621 456,598 468,568 C480,538 496,505 500,473 C504,441 494,406 489,378 C484,350 470,324 468,303 C466,282 476,268 479,250 C482,232 473,224 489,197 Z" fill="#1e7ebe"/></g><line x1="580" y1="340" x2="500" y2="700" stroke="#44b4f0" stroke-width="60" stroke-linecap="round" filter="url(#bl3)" opacity="0.5"/><line x1="820" y1="420" x2="840" y2="560" stroke="#44b4f0" stroke-width="30" stroke-linecap="round" filter="url(#bl3)" opacity="0.5"/><line x1="700" y1="220" x2="900" y2="300" stroke="#44b4f0" stroke-width="50" stroke-linecap="round" filter="url(#bl3)" opacity="0.5"/></g></g><g clip-path="url(#c7)"><g transform="translate(726,628) scale(0.18701870187018702)">
<rect x="25" y="35" width="865" height="800" fill="#0c0b12"/>
<circle cx="458" cy="430" r="410" fill="url(#halo7)"/>
<circle cx="455" cy="425" r="335" fill="#7e7c86"/>
<circle cx="455" cy="425" r="332" fill="none" stroke="#d4ccd8" stroke-width="16" filter="url(#bl1)" opacity="0.55"/>
<g filter="url(#r5)">
<path d="M280,260 C298,238 322,212 350,200 C378,188 418,190 450,190 C482,190 512,193 540,200 C568,207 597,215 620,230 C643,245 660,268 680,290 C700,312 723,333 740,360 C757,387 772,420 780,450 C788,480 793,508 790,540 C787,572 778,610 760,640 C742,670 713,700 680,720 C647,740 600,752 560,760 C520,768 480,768 440,765 C400,762 357,754 320,740 C283,726 248,705 220,680 C192,655 166,620 150,590 C134,560 127,528 125,500 C123,472 129,442 140,420 C151,398 173,385 190,370 C207,355 225,348 240,330 C255,312 262,282 280,260 Z" fill="#f2ede6"/>
<path d="M280,260 C298,238 322,212 350,200 C378,188 418,190 450,190 C482,190 512,193 540,200 C568,207 597,215 620,230 C643,245 660,268 680,290 C700,312 723,333 740,360 C757,387 772,420 780,450 C788,480 793,508 790,540 C787,572 778,610 760,640 C742,670 713,700 680,720 C647,740 600,752 560,760 C520,768 480,768 440,765 C400,762 357,754 320,740 C283,726 248,705 220,680 C192,655 166,620 150,590 C134,560 127,528 125,500 C123,472 129,442 140,420 C151,398 173,385 190,370 C207,355 225,348 240,330 C255,312 262,282 280,260 Z" fill="#9c96a0" filter="url(#texD)"/>
</g>
<ellipse cx="480" cy="500" rx="250" ry="210" fill="#fffcf6" filter="url(#bl2)" opacity="0.7"/>
<g fill="#e8e4e0"><circle cx="540" cy="150" r="10"/><circle cx="600" cy="172" r="8"/><circle cx="680" cy="290" r="12"/><circle cx="725" cy="400" r="10"/><circle cx="330" cy="210" r="14"/><circle cx="200" cy="285" r="12"/><circle cx="170" cy="350" r="16"/><circle cx="650" cy="230" r="9"/><circle cx="760" cy="480" r="8"/><circle cx="400" cy="160" r="10"/></g>
<path d="M150,560 C230,700 350,770 470,765 C600,760 720,680 780,540" fill="none" stroke="#fbf8f6" stroke-width="50" filter="url(#bl2)" opacity="0.85"/>
</g></g><g clip-path="url(#c8)"><g transform="translate(903,628) scale(0.18701870187018702)">
<rect x="25" y="30" width="865" height="800" fill="#060608"/>
<circle cx="470" cy="420" r="400" fill="#3e300a" filter="url(#bl2)"/>
<circle cx="470" cy="420" r="342" fill="none" stroke="#8c7a22" stroke-width="34" filter="url(#bl2)"/>
<circle cx="470" cy="420" r="318" fill="#2e2a0c" filter="url(#bl1)"/>
<path d="M275,275 C282,258 279,259 300,250 C321,241 370,222 400,220 C430,218 453,235 480,240 C507,245 537,240 560,250 C583,260 600,285 620,300 C640,315 665,328 680,340 C695,352 710,360 710,370 C710,380 688,382 680,400 C672,418 665,457 660,480 C655,503 657,520 650,540 C643,560 632,582 620,600 C608,618 593,637 580,650 C567,663 558,672 540,680 C522,688 490,705 470,700 C450,695 438,667 420,650 C402,633 380,615 360,600 C340,585 314,572 300,560 C286,548 282,542 275,530 C268,518 261,508 255,490 C249,472 240,443 240,420 C240,397 249,374 255,350 C261,326 268,292 275,275 Z" fill="#d8b428" filter="url(#bl2)" opacity="0.6"/>
<g filter="url(#r6)">
<path d="M275,275 C282,258 279,259 300,250 C321,241 370,222 400,220 C430,218 453,235 480,240 C507,245 537,240 560,250 C583,260 600,285 620,300 C640,315 665,328 680,340 C695,352 710,360 710,370 C710,380 688,382 680,400 C672,418 665,457 660,480 C655,503 657,520 650,540 C643,560 632,582 620,600 C608,618 593,637 580,650 C567,663 558,672 540,680 C522,688 490,705 470,700 C450,695 438,667 420,650 C402,633 380,615 360,600 C340,585 314,572 300,560 C286,548 282,542 275,530 C268,518 261,508 255,490 C249,472 240,443 240,420 C240,397 249,374 255,350 C261,326 268,292 275,275 Z" fill="#f8de4a"/>
<path d="M275,275 C282,258 279,259 300,250 C321,241 370,222 400,220 C430,218 453,235 480,240 C507,245 537,240 560,250 C583,260 600,285 620,300 C640,315 665,328 680,340 C695,352 710,360 710,370 C710,380 688,382 680,400 C672,418 665,457 660,480 C655,503 657,520 650,540 C643,560 632,582 620,600 C608,618 593,637 580,650 C567,663 558,672 540,680 C522,688 490,705 470,700 C450,695 438,667 420,650 C402,633 380,615 360,600 C340,585 314,572 300,560 C286,548 282,542 275,530 C268,518 261,508 255,490 C249,472 240,443 240,420 C240,397 249,374 255,350 C261,326 268,292 275,275 Z" fill="#d0ae2c" filter="url(#texD)" opacity="0.6"/>
<path d="M275,275 C282,258 279,259 300,250 C321,241 370,222 400,220 C430,218 453,235 480,240 C507,245 537,240 560,250 C583,260 600,285 620,300 C640,315 665,328 680,340 C695,352 710,360 710,370 C710,380 688,382 680,400 C672,418 665,457 660,480 C655,503 657,520 650,540 C643,560 632,582 620,600 C608,618 593,637 580,650 C567,663 558,672 540,680 C522,688 490,705 470,700 C450,695 438,667 420,650 C402,633 380,615 360,600 C340,585 314,572 300,560 C286,548 282,542 275,530 C268,518 261,508 255,490 C249,472 240,443 240,420 C240,397 249,374 255,350 C261,326 268,292 275,275 Z" fill="#fff6a0" filter="url(#texH)"/>
</g>
<g fill="#f0d448"><circle cx="210" cy="290" r="15"/><circle cx="250" cy="272" r="10"/><circle cx="175" cy="405" r="18"/><circle cx="215" cy="500" r="24"/><circle cx="195" cy="365" r="10"/><circle cx="290" cy="640" r="12"/><circle cx="420" cy="700" r="15"/><circle cx="700" cy="440" r="8"/><circle cx="720" cy="320" r="6"/><circle cx="530" cy="185" r="6"/></g>
</g></g>
<g>
 <polygon points="31,366 189,366 178,377 42,377" fill="url(#bvT)"/>
 <polygon points="31,366 42,377 42,495 31,506" fill="url(#bvL)"/>
 <polygon points="189,366 189,506 178,495 178,377" fill="url(#bvR)"/>
 <polygon points="31,506 42,495 178,495 189,506" fill="url(#bvB)"/>
 <rect x="31.5" y="366.5" width="157" height="139" fill="none" stroke="#000" stroke-opacity="0.85" stroke-width="1.2"/>
</g>
<g>
 <polygon points="209,366 369,366 358,377 220,377" fill="url(#bvT)"/>
 <polygon points="209,366 220,377 220,495 209,506" fill="url(#bvL)"/>
 <polygon points="369,366 369,506 358,495 358,377" fill="url(#bvR)"/>
 <polygon points="209,506 220,495 358,495 369,506" fill="url(#bvB)"/>
 <rect x="209.5" y="366.5" width="159" height="139" fill="none" stroke="#000" stroke-opacity="0.85" stroke-width="1.2"/>
</g>
<g>
 <polygon points="730,366 890,366 879,377 741,377" fill="url(#bvT)"/>
 <polygon points="730,366 741,377 741,497 730,508" fill="url(#bvL)"/>
 <polygon points="890,366 890,508 879,497 879,377" fill="url(#bvR)"/>
 <polygon points="730,508 741,497 879,497 890,508" fill="url(#bvB)"/>
 <rect x="730.5" y="366.5" width="159" height="141" fill="none" stroke="#000" stroke-opacity="0.85" stroke-width="1.2"/>
</g>
<g>
 <polygon points="903,367 1063,367 1052,378 914,378" fill="url(#bvT)"/>
 <polygon points="903,367 914,378 914,498 903,509" fill="url(#bvL)"/>
 <polygon points="1063,367 1063,509 1052,498 1052,378" fill="url(#bvR)"/>
 <polygon points="903,509 914,498 1052,498 1063,509" fill="url(#bvB)"/>
 <rect x="903.5" y="367.5" width="159" height="141" fill="none" stroke="#000" stroke-opacity="0.85" stroke-width="1.2"/>
</g>
<g>
 <polygon points="26,635 190,635 179,646 37,646" fill="url(#bvT)"/>
 <polygon points="26,635 37,646 37,767 26,778" fill="url(#bvL)"/>
 <polygon points="190,635 190,778 179,767 179,646" fill="url(#bvR)"/>
 <polygon points="26,778 37,767 179,767 190,778" fill="url(#bvB)"/>
 <rect x="26.5" y="635.5" width="163" height="142" fill="none" stroke="#000" stroke-opacity="0.85" stroke-width="1.2"/>
</g>
<g>
 <polygon points="206,635 378,635 367,646 217,646" fill="url(#bvT)"/>
 <polygon points="206,635 217,646 217,767 206,778" fill="url(#bvL)"/>
 <polygon points="378,635 378,778 367,767 367,646" fill="url(#bvR)"/>
 <polygon points="206,778 217,767 367,767 378,778" fill="url(#bvB)"/>
 <rect x="206.5" y="635.5" width="171" height="142" fill="none" stroke="#000" stroke-opacity="0.85" stroke-width="1.2"/>
</g>
<g>
 <polygon points="731,635 892,635 881,646 742,646" fill="url(#bvT)"/>
 <polygon points="731,635 742,646 742,772 731,783" fill="url(#bvL)"/>
 <polygon points="892,635 892,783 881,772 881,646" fill="url(#bvR)"/>
 <polygon points="731,783 742,772 881,772 892,783" fill="url(#bvB)"/>
 <rect x="731.5" y="635.5" width="160" height="147" fill="none" stroke="#000" stroke-opacity="0.85" stroke-width="1.2"/>
</g>
<g>
 <polygon points="908,634 1068,634 1057,645 919,645" fill="url(#bvT)"/>
 <polygon points="908,634 919,645 919,772 908,783" fill="url(#bvL)"/>
 <polygon points="1068,634 1068,783 1057,772 1057,645" fill="url(#bvR)"/>
 <polygon points="908,783 919,772 1057,772 1068,783" fill="url(#bvB)"/>
 <rect x="908.5" y="634.5" width="159" height="148" fill="none" stroke="#000" stroke-opacity="0.85" stroke-width="1.2"/>
</g><g font-family='"Liberation Sans", sans-serif' font-size="31">
 <text x="35.5" y="495" fill="#fff" textLength="89" lengthAdjust="spacingAndGlyphs">UV on</text>
 <text x="211.5" y="496" fill="#fff" textLength="93" lengthAdjust="spacingAndGlyphs">UV off</text>
 <text x="737.5" y="501.5" fill="#fff" textLength="89" lengthAdjust="spacingAndGlyphs">UV on</text>
 <text x="906.5" y="501.5" fill="#fff" textLength="93" lengthAdjust="spacingAndGlyphs">UV off</text>
 <text x="32" y="769.8" fill="#ffff00" textLength="89" lengthAdjust="spacingAndGlyphs">UV on</text>
 <text x="206.5" y="769.8" fill="#ffff00" textLength="93" lengthAdjust="spacingAndGlyphs">UV off</text>
 <text x="736" y="776" fill="#ffff00" textLength="110" lengthAdjust="spacingAndGlyphs">282 nm</text>
 <text x="910" y="776" fill="#fff" textLength="112" lengthAdjust="spacingAndGlyphs">328 nm</text>
</g><g font-family='"Liberation Sans", sans-serif' font-weight="bold">
 <text x="45" y="830" font-size="31" fill="#c00000"><tspan font-style="italic" font-size="35" dy="1">Φ</tspan><tspan font-style="italic" font-size="20" dy="6">P</tspan><tspan dy="-7"> = 42.8%; </tspan><tspan font-style="italic">τ</tspan><tspan> = 1.22 </tspan><tspan font-style="italic">s</tspan></text>
 <text x="685" y="835" font-size="31" fill="#ff0000"><tspan font-style="italic" font-size="35" dy="1">Φ</tspan><tspan font-style="italic" font-size="20" dy="6">P</tspan><tspan dy="-7">:</tspan></text>
 <text x="797.5" y="835" font-size="31" fill="#ff0000">100%;</text>
 <text x="973.5" y="835" font-size="31" fill="#ff0000">100%</text>
 <path d="M769.5,828 C771,822 775,820 779,823.5 C783,827 787,827 789.5,821" fill="none" stroke="#ff0000" stroke-width="2.2"/>
 <path d="M945.5,828 C947,822 951,820 955,823.5 C959,827 963,827 965.5,821" fill="none" stroke="#ff0000" stroke-width="2.2"/>
</g><g>
 <path d="M523,379.4 L523,385 A36.7,41.6 0 0 0 596.4,385 L596.4,379.4 Z" fill="#a6a6a6"/>
 <ellipse cx="559.4" cy="380.7" rx="35.3" ry="16.7" fill="#808080"/>
 <ellipse cx="558.9" cy="380.2" rx="27.1" ry="9.6" fill="#f2f2f2"/>
 <g transform="translate(575,368.7) rotate(-47)">
  <rect x="-26" y="-4" width="52" height="8" rx="1.5" fill="#bfbfbf" stroke="#7f7f7f" stroke-width="1.5"/>
 </g>
</g>
<g>
 <circle cx="397" cy="589" r="19" fill="#a57fd0" opacity="0.5" filter="url(#glowP)"/>
 <polygon points="385.1,597.3 406.6,576.3 406.6,597.3" fill="#8e5fb5"/>
 <g fill="#fff" stroke="#000" stroke-width="1.8" stroke-linejoin="miter">
  <polygon points="350.6,548.2 360.8,538.9 383.7,565 373.9,573.9"/>
  <polygon points="372,577.2 387.5,563.2 403.8,570.2 377.7,594"/>
  <circle cx="372.5" cy="562.7" r="3.6"/>
 </g>
</g>
</svg>
</body></html>
